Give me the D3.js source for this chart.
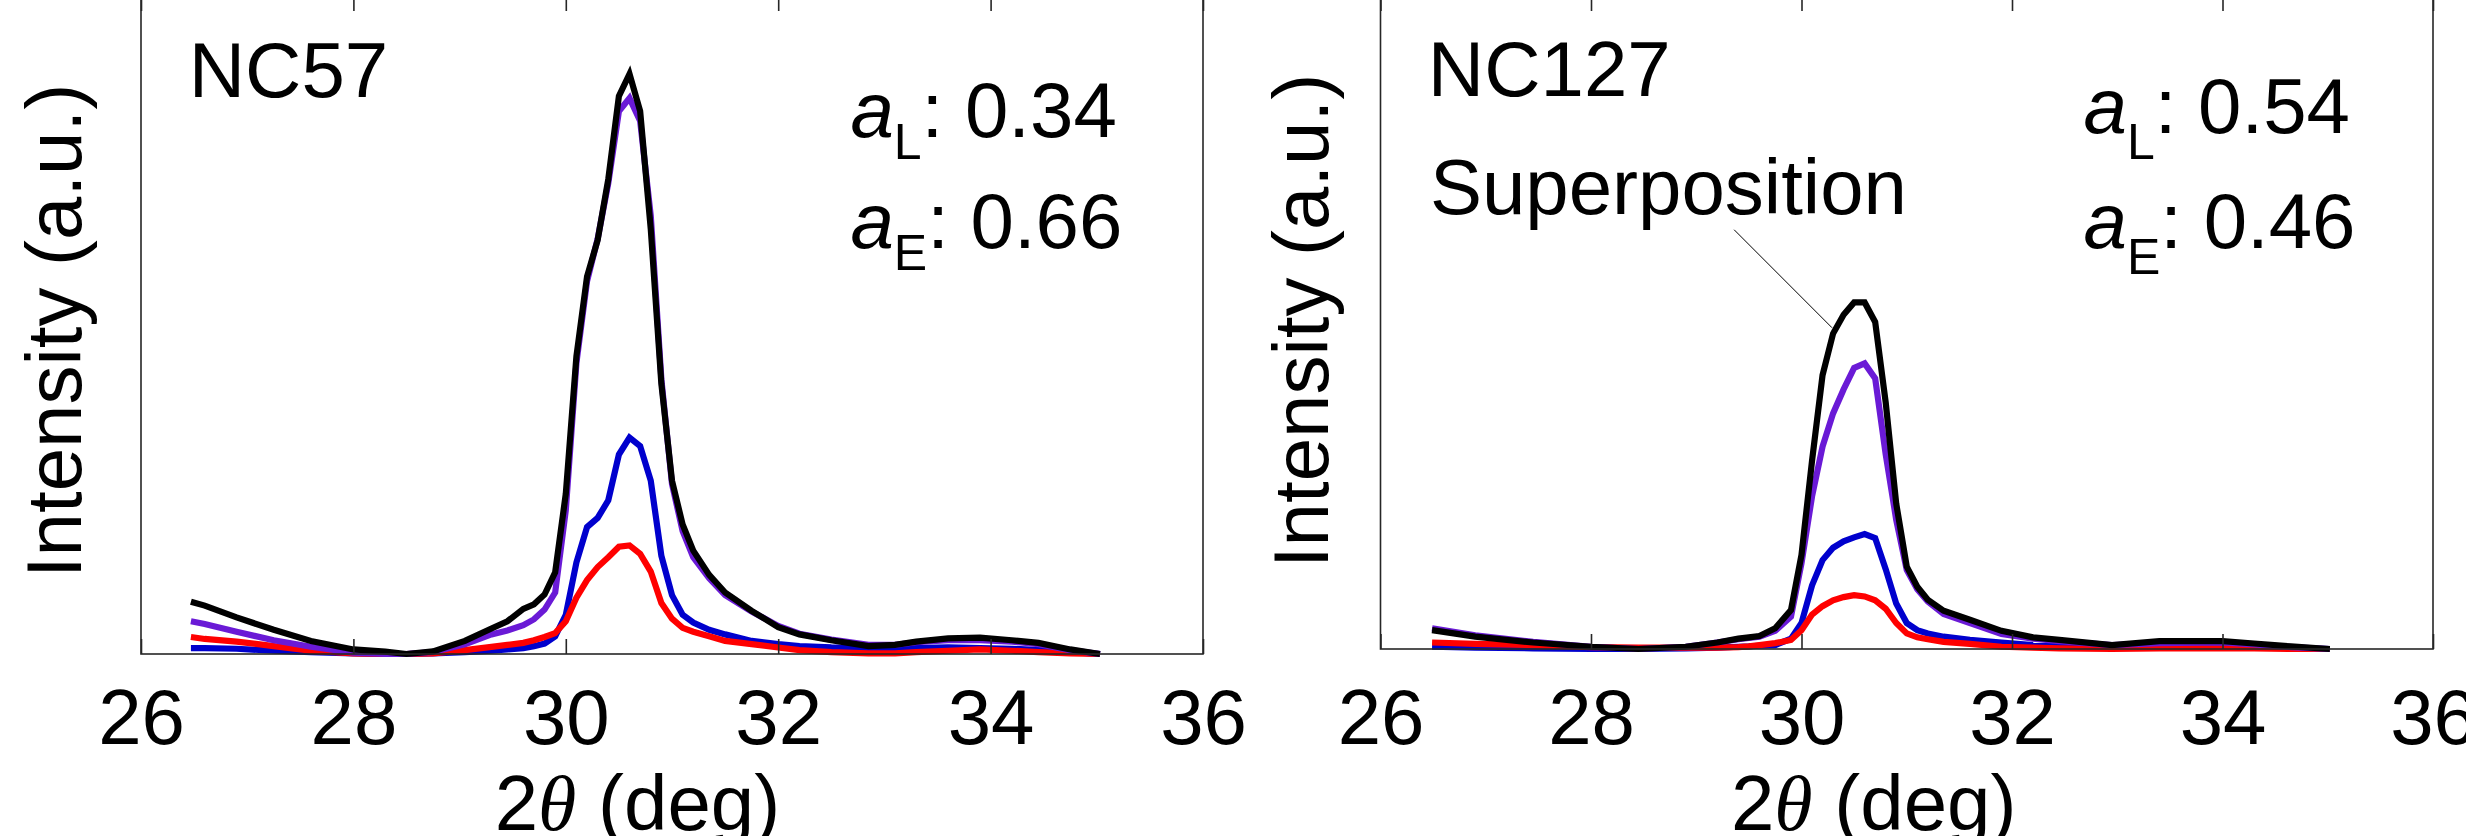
<!DOCTYPE html>
<html>
<head>
<meta charset="utf-8">
<script src="https://cdn.jsdelivr.net/npm/d3@7/dist/d3.min.js"></script>
<style>
  html, body { margin: 0; padding: 0; background: #fff; overflow: hidden; }
  svg { display: block; }
  text { font-family: "Liberation Sans", Arial, Helvetica, sans-serif; fill: #000; }
</style>
</head>
<body>
<svg id="chart" width="2466" height="836"></svg>
<script>
// Two XRD panels (NC57, NC127): superposition (black) and its components.

const X_TICKS = [26, 28, 30, 32, 34, 36];
const SERIES_COLORS = ['#0000CD', '#FF0000', '#6A1AD6', '#000000']; // blue, red, purple, black (draw order)

// --- NC57 ---
const NC57_X = [26.47, 26.6, 26.9, 27.25, 27.6, 28.0, 28.3, 28.5, 28.75, 29.05, 29.3, 29.45, 29.6, 29.7,
  29.8, 29.9, 30.0, 30.1, 30.2, 30.3, 30.4, 30.5, 30.6, 30.7, 30.8, 30.9, 31.0, 31.1, 31.2, 31.35,
  31.5, 31.75, 32.0, 32.2, 32.5, 32.85, 33.1, 33.3, 33.6, 33.9, 34.2, 34.45, 34.75, 35.03];
const NC57_BLACK = [8.0, 7.4, 5.6, 3.7, 2.0, 0.7, 0.35, 0.0, 0.4, 2.0, 3.9, 5.0, 6.9, 7.6,
  9.1, 12.5, 24.5, 45.5, 57.7, 63.3, 72.6, 85.3, 88.7, 83.0, 65.0, 41.3, 26.5, 19.8, 15.8, 12.1,
  9.4, 6.6, 4.1, 3.0, 2.1, 1.2, 1.4, 1.9, 2.4, 2.5, 2.1, 1.7, 0.7, 0.0];
const NC57_PURPLE = [5.0, 4.6, 3.4, 2.1, 1.1, 0.2, 0.0, 0.0, 0.3, 1.5, 3.0, 3.6, 4.4, 5.3,
  6.8, 9.4, 22.0, 44.5, 57.0, 63.5, 72.0, 83.0, 85.0, 81.5, 67.0, 42.0, 26.0, 18.8, 14.8, 11.6,
  9.0, 6.5, 4.3, 3.1, 2.2, 1.4, 1.4, 1.8, 2.1, 2.1, 1.9, 1.5, 0.6, 0.0];
const NC57_BLUE = [0.9, 0.9, 0.8, 0.5, 0.3, 0.1, 0.0, 0.0, 0.1, 0.3, 0.5, 0.7, 0.9, 1.2,
  1.6, 2.7, 6.0, 14.0, 19.4, 20.8, 23.5, 30.5, 33.1, 31.8, 26.5, 15.0, 9.0, 6.0, 4.8, 3.7,
  3.0, 2.0, 1.5, 1.2, 1.0, 0.9, 0.8, 0.9, 1.0, 0.9, 0.8, 0.6, 0.3, 0.0];
const NC57_RED = [2.6, 2.3, 1.9, 1.2, 0.5, 0.1, 0.0, 0.0, 0.1, 0.6, 1.1, 1.4, 1.7, 2.1,
  2.6, 3.2, 5.0, 8.6, 11.3, 13.3, 14.8, 16.4, 16.6, 15.3, 12.6, 7.8, 5.4, 4.0, 3.4, 2.7,
  2.0, 1.5, 1.0, 0.6, 0.3, 0.1, 0.1, 0.3, 0.5, 0.7, 0.5, 0.3, 0.1, 0.0];

// --- NC127 ---
const NC127_X = [26.49, 26.9, 27.45, 28.0, 28.45, 28.9, 29.2, 29.4, 29.5, 29.6, 29.75, 29.9, 30.0,
  30.1, 30.2, 30.3, 30.4, 30.5, 30.6, 30.7, 30.8, 30.9, 31.0, 31.1, 31.2, 31.35, 31.6, 31.9,
  32.2, 32.45, 32.95, 33.4, 34.0, 34.3, 34.65, 35.02];
const NC127_BLACK = [2.9, 1.9, 1.0, 0.35, 0.0, 0.35, 1.0, 1.6, 1.8, 2.0, 3.2, 6.0, 14.5,
  29.0, 42.2, 48.6, 51.5, 53.4, 53.4, 50.4, 38.0, 22.4, 12.7, 9.6, 7.6, 5.9, 4.5, 2.8,
  1.8, 1.4, 0.6, 1.2, 1.2, 0.85, 0.4, 0.0];
const NC127_PURPLE = [3.2, 2.1, 1.1, 0.35, 0.0, 0.35, 1.0, 1.5, 1.7, 1.9, 2.8, 5.0, 13.2,
  23.5, 31.2, 36.3, 40.0, 43.3, 44.0, 41.7, 30.0, 19.9, 12.2, 9.2, 7.3, 5.4, 4.0, 2.3,
  1.6, 1.2, 0.6, 0.9, 1.0, 0.7, 0.3, 0.0];
const NC127_BLUE = [0.35, 0.2, 0.1, 0.0, 0.0, 0.1, 0.2, 0.35, 0.4, 0.5, 0.6, 1.6, 4.0,
  9.8, 13.7, 15.6, 16.6, 17.2, 17.7, 17.1, 12.3, 7.0, 4.0, 2.9, 2.4, 1.9, 1.4, 1.0,
  0.6, 0.4, 0.3, 0.4, 0.4, 0.3, 0.1, 0.0];
const NC127_RED = [1.0, 0.8, 0.6, 0.3, 0.2, 0.2, 0.2, 0.3, 0.4, 0.6, 0.9, 1.4, 2.9,
  5.3, 6.6, 7.5, 8.0, 8.3, 8.1, 7.5, 6.2, 4.0, 2.4, 1.8, 1.5, 1.1, 0.8, 0.35,
  0.2, 0.1, 0.0, 0.1, 0.1, 0.1, 0.0, 0.0];

const PANELS = [
  { name: 'NC57', aL: '0.34', aE: '0.66', x: NC57_X,
    ys: [NC57_BLUE, NC57_RED, NC57_PURPLE, NC57_BLACK],
    box: { left: 141, right: 1203, top: -4, bottom: 654 }, ylabX: 81, ylabY: 331,
    annoL: 137, annoE: 248, sub: 22, nameY: 97 },
  { name: 'NC127', aL: '0.54', aE: '0.46', x: NC127_X,
    ys: [NC127_BLUE, NC127_RED, NC127_PURPLE, NC127_BLACK],
    box: { left: 1380.5, right: 2433, top: -4, bottom: 649 }, ylabX: 1328, ylabY: 321,
    annoL: 133, annoE: 248, sub: 26, nameY: 96,
    callout: { text: 'Superposition', textY: 214, from: [29.36, 64.6], to: [30.29, 49.5] } },
];

const FONT = 78;
const svg = d3.select('#chart');

function drawPanel(p) {
  const { left, right, top, bottom } = p.box;
  const x = d3.scaleLinear().domain([26, 36]).range([left, right]);
  // 0..100 spans the box (top edge sits a few px above the window)
  const y = d3.scaleLinear().domain([0, 100]).range([bottom, 0]);
  const g = svg.append('g');

  // Curves
  const line = d3.line().x((d) => x(d[0])).y((d) => y(d[1]));
  p.ys.forEach((vals, i) => {
    g.append('path')
      .datum(p.x.map((xv, j) => [xv, vals[j]]))
      .attr('d', line)
      .attr('fill', 'none')
      .attr('stroke', SERIES_COLORS[i])
      .attr('stroke-width', 6.2)
      .attr('stroke-linejoin', 'miter');
  });

  // Frame
  g.append('rect')
    .attr('x', left).attr('y', top)
    .attr('width', right - left).attr('height', bottom - top)
    .attr('fill', 'none').attr('stroke', '#262626').attr('stroke-width', 1.6);

  // Bottom ticks + labels
  const ax = g.append('g').attr('transform', `translate(0,${bottom})`)
    .call(d3.axisBottom(x).tickValues(X_TICKS).tickSize(-15).tickFormat(d3.format('d')));
  ax.select('.domain').remove();
  ax.selectAll('.tick line').attr('stroke', '#262626').attr('stroke-width', 1.6);
  ax.selectAll('.tick text')
    .attr('y', 744 - bottom).attr('dy', 0)
    .style('font-size', FONT + 'px')
    .style('font-family', '"Liberation Sans", Arial, sans-serif')
    .attr('fill', '#000');

  // Top ticks, no labels
  const axTop = g.append('g').attr('transform', `translate(0,${top})`)
    .call(d3.axisTop(x).tickValues(X_TICKS).tickSize(-15).tickFormat(''));
  axTop.select('.domain').remove();
  axTop.selectAll('.tick line').attr('stroke', '#262626').attr('stroke-width', 1.6);

  // x label: 2θ (deg)
  const xl = g.append('text')
    .attr('x', x(29.33)).attr('y', 830)
    .style('font-size', FONT + 'px');
  xl.append('tspan').text('2');
  xl.append('tspan').text('θ')
    .style('font-family', '"Liberation Serif", "Times New Roman", serif')
    .style('font-style', 'italic');
  xl.append('tspan').text(' (deg)');

  // y label
  g.append('text')
    .attr('transform', `translate(${p.ylabX},${p.ylabY}) rotate(-90)`)
    .attr('text-anchor', 'middle')
    .style('font-size', FONT + 'px')
    .text('Intensity (a.u.)');

  // Sample name
  g.append('text')
    .attr('x', x(26.45)).attr('y', p.nameY)
    .style('font-size', FONT + 'px')
    .text(p.name);

  // a_L / a_E
  [['L', p.aL, p.annoL], ['E', p.aE, p.annoE]].forEach(([s, v, by]) => {
    const t = g.append('text')
      .attr('x', x(32.68)).attr('y', by)
      .style('font-size', FONT + 'px');
    t.append('tspan').text('a').style('font-style', 'italic');
    t.append('tspan').text(s).attr('dy', p.sub).style('font-size', '50px');
    t.append('tspan').text(': ' + v).attr('dy', -p.sub);
  });

  // Callout
  if (p.callout) {
    const c = p.callout;
    g.append('text')
      .attr('x', x(26.47)).attr('y', c.textY)
      .style('font-size', FONT + 'px')
      .text(c.text);
    g.append('line')
      .attr('x1', x(c.from[0])).attr('y1', y(c.from[1]))
      .attr('x2', x(c.to[0])).attr('y2', y(c.to[1]))
      .attr('stroke', '#000').attr('stroke-width', 1);
  }
}

PANELS.forEach(drawPanel);
</script>
</body>
</html>
